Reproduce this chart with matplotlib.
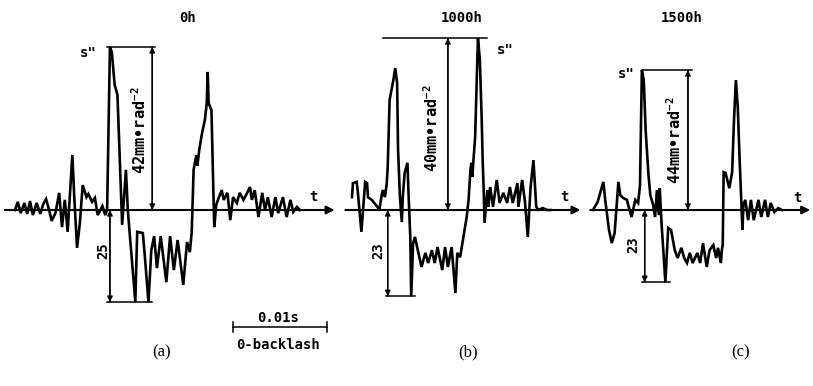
import matplotlib.pyplot as plt

# waveform samples: time (ms) and s'' amplitude (mm)
t_a = [0.0, 0.3, 0.6, 1.0, 1.3, 1.6, 1.9, 2.3, 2.7, 3.0, 3.3, 3.6, 3.9, 4.3, 4.7, 5.0, 5.3, 5.6,
       6.1, 6.3, 6.6, 6.9, 7.2, 7.6, 7.8, 8.2, 8.5, 8.8, 9.3, 9.6, 9.8, 10.1, 10.3, 10.6, 10.9,
       11.4, 11.8, 12.0, 12.8, 13.0, 13.6, 13.8, 14.2, 14.5, 14.8, 15.1, 15.5, 16.1, 16.5, 16.9,
       17.3, 17.9, 18.3, 18.6, 18.8, 19.0, 19.3, 19.4, 19.6, 19.9, 20.2, 20.4, 20.5, 20.6, 20.9,
       21.1, 21.2, 21.4, 21.7, 22.0, 22.2, 22.6, 22.9, 23.2, 23.6, 23.9, 24.3, 24.7, 25.0, 25.2,
       25.5, 25.9, 26.3, 26.6, 26.9, 27.3, 27.7, 28.0, 28.5, 28.9, 29.3, 29.6, 30.0, 30.3]
s_a = [0.0, 2.1, -0.8, 1.8, -1.0, 2.3, -1.3, 1.8, -1.0, 1.5, 2.8, 0.3, -2.8, -0.8, 4.4, -4.4, 2.6, -5.6,
       14.1, 3.6, -9.7, -3.3, 6.4, 3.3, 4.1, 2.1, 3.1, -1.3, 1.0, -1.3, 0.0, 41.8, 40.5, 32.1, 29.5,
       -3.8, 10.3, 0.0, -23.6, -5.6, -5.9, -11.5, -23.6, -10.3, -6.7, -14.9, -6.7, -18.5, -6.7, -15.4,
       -7.7, -19.2, -8.2, -10.8, -5.6, 10.3, 14.1, 11.3, 15.4, 19.7, 23.1, 27.4, 35.4, 27.4, 25.6,
       5.1, -4.4, 1.3, 3.3, 5.1, 2.6, 4.4, -2.6, 3.3, 1.8, 4.4, 2.6, 4.4, 5.9, 2.6,
       5.1, -1.8, 4.4, 0.0, 3.3, -1.8, 3.3, -0.8, 3.3, -1.8, 2.6, -0.5, 0.8, 0.0]

t_b = [0.0, 0.1, 0.5, 0.6, 1.0, 1.2, 1.4, 1.6, 1.7, 2.1, 2.7, 2.9, 3.2, 3.3, 3.5, 3.7, 3.8, 4.0,
       4.4, 4.6, 4.8, 4.9, 5.1, 5.3, 5.4, 5.6, 5.9, 6.0, 6.2, 6.3, 6.5, 6.7, 7.0, 7.4, 7.8, 8.1,
       8.5, 8.8, 9.1, 9.6, 9.9, 10.2, 10.6, 11.0, 11.2, 11.5, 11.8, 12.2, 12.4, 12.6, 12.7, 12.8,
       12.9, 13.1, 13.3, 13.4, 13.6, 13.8, 13.9, 14.0, 14.1, 14.4, 14.5, 14.7, 15.0, 15.4, 15.7,
       16.1, 16.5, 16.8, 17.1, 17.6, 17.7, 18.1, 18.4, 18.7, 19.0, 19.3, 19.6, 19.8, 20.3, 20.7, 21.1]
s_b = [3.3, 6.9, 7.2, 5.1, -5.6, 0.8, 7.2, 6.9, 3.3, 2.6, 0.8, 0.0, 4.4, 5.1, 3.3, 6.9, 11.0, 28.2,
       33.3, 36.4, 32.6, 15.4, 3.3, -3.1, 3.3, 9.5, 12.1, 5.1, -6.9, -22.1, -8.5, -6.9, -10.3, -14.6, -11.0, -13.6,
       -10.3, -13.6, -9.5, -15.4, -9.5, -14.6, -9.5, -21.3, -11.0, -12.1, -7.7, -1.8, 2.6, 10.3, 12.1, 8.5,
       12.1, 18.7, 35.9, 44.1, 38.5, 23.1, 12.8, 5.9, -3.3, 5.1, 0.8, 5.9, 0.8, 7.7, 1.8,
       4.4, 1.8, 5.9, 1.8, 6.9, 0.8, 7.7, 2.1, -6.9, 5.9, 12.8, 0.8, 0.0, 0.5, 0.0, 0.0]

t_c = [0.0, 0.5, 1.1, 1.3, 1.7, 2.0, 2.3, 2.7, 2.9, 3.2, 3.6, 4.1, 4.5, 4.8, 5.0, 5.2, 5.4, 5.6,
       5.9, 6.1, 6.4, 6.6, 6.8, 7.0, 7.1, 7.3, 7.7, 8.0, 8.3, 8.7, 9.0, 9.4, 9.7, 10.0, 10.3, 10.6,
       11.1, 11.4, 11.7, 12.1, 12.4, 12.8, 13.1, 13.3, 13.6, 13.7, 13.8, 13.9, 14.1, 14.5, 14.8,
       15.0, 15.2, 15.4, 15.6, 15.9, 16.0, 16.2, 16.5, 16.8, 17.1, 17.6, 17.9, 18.3, 18.6, 18.9,
       19.3, 19.7, 20.1]
s_c = [0.0, 2.1, 7.2, 2.6, -5.1, -8.5, -5.9, 7.2, 3.8, 3.1, 2.6, -1.8, 2.6, 1.8, 6.4, 35.9, 33.3, 20.5,
       9.0, 3.8, 1.3, -1.8, 5.1, -1.3, 5.6, -3.8, -18.5, -4.6, -5.1, -10.3, -12.3, -9.7, -12.3, -13.6, -11.0, -13.6,
       -11.0, -13.6, -8.5, -14.6, -10.3, -9.0, -12.3, -9.7, -13.6, -10.3, -9.0, 9.7, 9.5, 5.6, 9.7,
       23.1, 33.3, 26.4, 12.8, -5.1, 1.3, 2.6, -2.6, 2.6, -2.6, 2.6, -1.8, 2.6, -1.8, 1.8,
       -0.5, 0.5, 0.0]

titles = ['0h', '1000h', '1500h']
tags = ['(a)', '(b)', '(c)']
peak_labels = ['42mm\u2022rad$^{-2}$', '40mm\u2022rad$^{-2}$', '44mm\u2022rad$^{-2}$']
trough_labels = ['25', '23', '23']

plt.rcParams['mathtext.fontset'] = 'custom'
plt.rcParams['mathtext.rm'] = 'DejaVu Sans Mono:bold'
plt.rcParams['mathtext.it'] = 'DejaVu Sans Mono:bold'

PX_MS = 9.4   # pixels per ms
PX_MM = 3.9   # pixels per mm
W, H, AXIS_Y = 813, 386, 210

mono = dict(family='DejaVu Sans Mono', weight='bold', fontsize=10)
serif = dict(family='Liberation Serif', fontsize=12)

fig = plt.figure(figsize=(W / 100, H / 100), dpi=100)

# panel layout: origin pixel of trace, left/right pixel of the axes box
layout = [(15, 0, 340), (352, 340, 585), (593, 585, 813)]
# per panel: axis line span, top dim line span, top arrow t, label pos, s'' pos,
# bottom dim span, bottom arrow t, trough label pos, t label pos, title t, tag t
opts = [
    dict(axis=(-1.1, 34.0), top=(9.8, 14.9), top_x=14.6, lab=(13.3, 20.5), spp=(7.8, 40.3),
         bot=(9.8, 14.6), bot_x=10.1, blab=(9.4, -10.3), tl=(31.7, 3.3), title=18.4, tag=15.6),
    dict(axis=(-0.7, 24.3), top=(3.3, 14.4), top_x=10.2, lab=(8.5, 21.0), spp=(16.3, 41.0),
         bot=(3.6, 6.7), bot_x=3.8, blab=(2.8, -10.3), tl=(22.6, 3.3), title=11.7, tag=12.3),
    dict(axis=(-0.3, 23.1), top=(5.2, 10.5), top_x=10.1, lab=(8.7, 18.0), spp=(3.5, 35.0),
         bot=(5.2, 8.2), bot_x=5.5, blab=(4.3, -9.0), tl=(21.8, 3.1), title=9.4, tag=15.7),
]
series = [(t_a, s_a), (t_b, s_b), (t_c, s_c)]

dim = dict(arrowstyle='-|>', color='black', lw=1.0, mutation_scale=8, shrinkA=0, shrinkB=0)

for i, ((ox, L, R), o, (t, s)) in enumerate(zip(layout, opts, series)):
    ax = fig.add_axes([L / W, 0, (R - L) / W, 1])
    ax.set_xlim((L - ox) / PX_MS, (R - ox) / PX_MS)
    ax.set_ylim((AXIS_Y - H) / PX_MM, AXIS_Y / PX_MM)
    ax.axis('off')

    # time axis with arrow
    ax.annotate('', xy=(o['axis'][1], 0), xytext=(o['axis'][0], 0),
                arrowprops=dict(arrowstyle='-|>', color='black', lw=1.5,
                                mutation_scale=12, shrinkA=0, shrinkB=0))
    ax.text(o['tl'][0], o['tl'][1], 't', ha='center', va='center', **mono)

    ax.plot(t, s, color='black', lw=1.9, solid_joinstyle='miter')

    smax, smin = max(s), min(s)
    # peak dimension
    ax.plot(o['top'], [smax, smax], color='black', lw=1.1)
    ax.annotate('', xy=(o['top_x'], smax), xytext=(o['top_x'], 0), arrowprops=dim)
    ax.annotate('', xy=(o['top_x'], 0), xytext=(o['top_x'], smax), arrowprops=dim)
    ax.text(o['lab'][0], o['lab'][1], peak_labels[i], rotation=90, ha='center', va='center',
            family='DejaVu Sans Mono', weight='bold', fontsize=11)
    ax.text(o['spp'][0], o['spp'][1], 's"', ha='center', va='center', **mono)
    # trough dimension
    ax.plot(o['bot'], [smin, smin], color='black', lw=1.1)
    ax.annotate('', xy=(o['bot_x'], smin), xytext=(o['bot_x'], 0), arrowprops=dim)
    ax.annotate('', xy=(o['bot_x'], 0), xytext=(o['bot_x'], smin), arrowprops=dim)
    ax.text(o['blab'][0], o['blab'][1], trough_labels[i], rotation=90, ha='center',
            va='center', **mono)

    ax.text(o['title'], 49.2, titles[i], ha='center', va='center', **mono)
    ax.text(o['tag'], -36.4, tags[i], ha='center', va='center', **serif)

    if i == 0:
        # 0.01 s scale bar
        ax.plot([23.2, 33.2], [-30.0, -30.0], color='black', lw=1.1)
        ax.plot([23.2, 23.2], [-28.7, -31.3], color='black', lw=1.1)
        ax.plot([33.2, 33.2], [-28.7, -31.3], color='black', lw=1.1)
        ax.text(28.0, -29.6, '0.01s', ha='center', va='bottom', **mono)
        ax.text(28.0, -34.6, '0-backlash', ha='center', va='center', **mono)

fig.savefig('out.png', dpi=100)
